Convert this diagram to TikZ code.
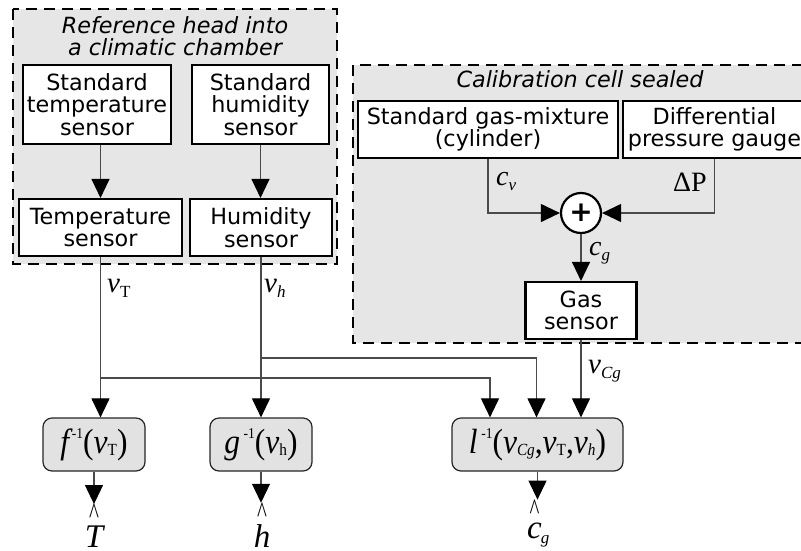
\documentclass[tikz,border=0pt]{standalone}
\usepackage{fontspec}
\setmainfont{DejaVu Sans}
\newfontfamily\tms{Liberation Serif}
\usetikzlibrary{arrows.meta}
\definecolor{bggray}{HTML}{E6E6E6}
\definecolor{fngray}{HTML}{E2E2E2}
\definecolor{ln}{HTML}{4A4A4A}
\newcommand\boxfont{\fontsize{22.3}{22.5}\selectfont}
\newcommand\msup[1]{\raisebox{15pt}{\upshape\fontsize{15}{15}\selectfont #1}}
\newcommand\msub[2][-2pt]{\raisebox{#1}{\fontsize{17}{17}\selectfont #2}}
\newcommand\hatc{{\upshape\fontsize{30}{30}\selectfont\scalebox{0.7}[1]{\textasciicircum}}}
\newcommand\hatted[2][-1.5pt]{\shortstack{\hatc\\[#1]#2}}
\newcommand\fnx[1]{\scalebox{0.9}[1]{#1}}
\begin{document}
\begin{tikzpicture}[x=1pt,y=-1pt,
 region/.style={fill=bggray, draw=black, line width=2.7pt, dash pattern=on 11pt off 7pt},
 box/.style={draw=black, line width=2.1pt, fill=white, inner sep=0pt, align=center, font=\boxfont},
 fn/.style={draw=black!85, line width=1.2pt, fill=fngray, rounded corners=9pt, minimum height=53pt, inner sep=0pt, font=\tms\fontsize{35}{35}\selectfont},
 lbl/.style={inner sep=0pt, font=\tms\fontsize{29}{29}\selectfont},
 lbls/.style={inner sep=0pt, font=\tms\fontsize{28}{28}\selectfont},
 outl/.style={inner sep=0pt, font=\tms\fontsize{33}{33}\selectfont\itshape},
 arr/.style={draw=ln, line width=1.1pt, -{Triangle[length=19pt,width=18pt,color=black]}},
 wire/.style={draw=ln, line width=1.1pt}]
\useasboundingbox (0,0) rectangle (801,550);
\clip (0,0) rectangle (801,550);
\fill[white] (0,0) rectangle (801,550);
\draw[region] (13,9) rectangle (337,264);
\draw[region] (353,65) rectangle (840,343);
\node[font=\boxfont\itshape, align=center, inner sep=0pt] (t1) at (175,36) {Reference head into\\a climatic chamber};
\node[font=\boxfont\itshape, inner sep=0pt] (t2) at (580,79) {Calibration cell sealed};
% boxes
\node[box, minimum width=148pt, minimum height=79pt] (stdT) at (97,104.5) {Standard\\temperature\\sensor};
\node[box, minimum width=137pt, minimum height=79pt] (stdH) at (260.5,104.5) {Standard\\humidity\\sensor};
\node[box, minimum width=163pt, minimum height=57pt] (tS) at (100.5,227.5) {Temperature\\sensor};
\node[box, minimum width=142pt, minimum height=57pt] (hS) at (261,227.5) {Humidity\\sensor};
\node[box, minimum width=260pt, minimum height=57pt] (gm) at (488,129.5) {Standard gas-mixture\\(cylinder)};
\node[box, minimum width=183pt, minimum height=57pt] (dp) at (714.5,129.5) {Differential\\pressure gauge};
\node[draw, circle, line width=2.2pt, fill=white, minimum size=40pt, inner sep=0pt] (sum) at (581,213) {\fontsize{28}{28}\selectfont\bfseries +};
\node[box, minimum width=111pt, minimum height=57pt] (gas) at (581,310.5) {Gas\\sensor};
% function boxes
\node[fn, minimum width=102pt] (fb) at (94,444.5) {\fnx{\itshape f\kern3pt\msup{-1}\upshape(\itshape v\msub{\upshape T}\upshape)}};
\node[fn, minimum width=102pt] (gb) at (261,444.5) {\fnx{\itshape g\kern4pt\msup{-1}\upshape(\itshape v\msub{\upshape h}\upshape)}};
\node[fn, minimum width=171pt] (lb) at (537.5,444.5) {\fnx{\itshape l\kern4pt\msup{-1}\upshape(\itshape v\msub{\itshape Cg}\upshape,\itshape v\msub{\upshape T}\upshape,\itshape v\msub{\itshape h}\upshape)}};
% connectors
\coordinate (jT) at (100.5,378);
\coordinate (jH) at (261,358);
\draw[arr] (stdT.south -| tS.north) -- (tS.north);
\draw[arr] (stdH.south) -- (stdH.south |- hS.north);
\draw[arr] (tS.south) -- (tS.south |- fb.north);
\draw[arr] (hS.south) -- (hS.south |- gb.north);
\draw[arr] (jT) -| ([xshift=-47.5pt]lb.north);
\draw[arr] (jH) -| ([xshift=-1pt]lb.north);
\draw[arr] (gas.south) -- (gas.south |- lb.north);
\draw[arr] (gm.south) |- (sum.west);
\draw[arr] (dp.south) |- (sum.east);
\draw[arr] (sum.south) -- (gas.north);
% labels
\node[lbl, anchor=base west] (vT) at (107,292) {\itshape v\msub[-5pt]{\upshape T}};
\node[lbl, anchor=base west] (vH) at (264,292) {\itshape v\msub[-5pt]{\itshape h}};
\node[lbl, anchor=base west] (vC) at (588,373) {\itshape v\msub[-5pt]{\itshape Cg}};
\node[lbls, anchor=base west] (cv) at (496,185) {\itshape c\msub[-5pt]{\itshape v}};
\node[lbls, anchor=base east] (dP) at (707,191) {ΔP};
\node[lbls, anchor=base west] (cg) at (589,255) {\itshape c\msub[-5pt]{\itshape g}};
% outputs
\node[outl, anchor=base] (T) at (94,547) {\hatted{T}};
\node[outl, anchor=base] (H) at (262,547) {\hatted{h}};
\node[outl, anchor=base west] (C) at (527,538) {\hatted[0pt]{c}\kern-1pt\msub[-5pt]{g}};
\draw[arr] (fb.south) -- (fb.south |- T.north);
\draw[arr] (gb.south) -- (gb.south |- H.north);
\draw[arr] (lb.south) -- (lb.south |- C.north);
\end{tikzpicture}
\end{document}
